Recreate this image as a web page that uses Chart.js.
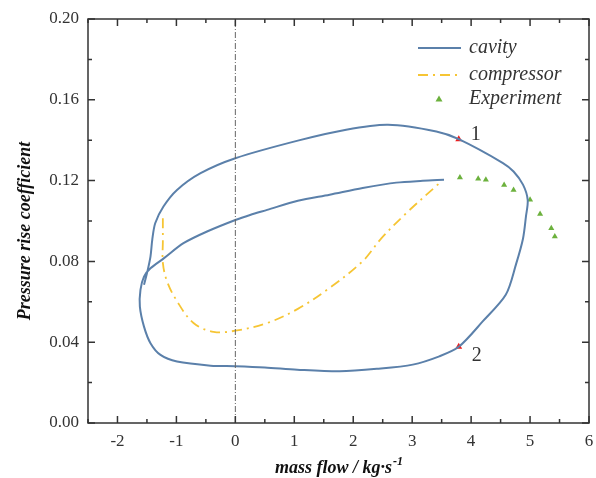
<!DOCTYPE html>
<html>
<head>
<meta charset="utf-8">
<script src="https://cdn.jsdelivr.net/npm/chart.js@4.4.0/dist/chart.umd.min.js"></script>
<style>
  html, body { margin: 0; padding: 0; background: #fff; }
  #wrap { width: 596px; height: 478px; }
</style>
</head>
<body>
<div id="wrap"><canvas id="surgeChart" width="596" height="478"></canvas></div>
<script>
// cavity loop, traced in drawing order
const cavityX = [3.54, 3.18, 2.73, 2.16, 1.60, 1.06, 0.54, 0.25, 0.00, -0.48, -0.88, -1.21, -1.44, -1.55,
  -1.61, -1.62, -1.55, -1.44, -1.27, -0.99, -0.42, 0.00, 0.50, 1.05, 1.77, 2.40, 3.01, 3.46,
  3.79, 4.20, 4.59, 4.76, 4.88, 4.93, 4.96, 4.88, 4.72, 4.54, 3.79, 3.41, 2.59, 1.88, 1.06, 0.00, -0.59,
  -0.99, -1.22, -1.36, -1.41, -1.44, -1.50, -1.55];
const cavityY = [0.1204, 0.1199, 0.1190, 0.1163, 0.1130, 0.1100, 0.1055, 0.1030, 0.1005, 0.0948, 0.0890, 0.0816, 0.0766, 0.0725,
  0.0659, 0.0576, 0.0477, 0.0395, 0.0337, 0.0304, 0.0284, 0.0281, 0.0275, 0.0264, 0.0256, 0.0268, 0.0289, 0.0330,
  0.0377, 0.0504, 0.0636, 0.0784, 0.0912, 0.1022, 0.1105, 0.1180, 0.1245, 0.1287, 0.1405, 0.1443, 0.1476, 0.1452, 0.1398, 0.1311, 0.1237,
  0.1154, 0.1072, 0.0989, 0.0907, 0.0824, 0.0741, 0.0684];

const compressorX = [-1.23, -1.23, -1.23, -1.16, -0.99, -0.71, -0.37, 0.00, 0.54, 1.06, 1.60, 2.16, 2.48, 2.90, 3.46];
const compressorY = [0.1014, 0.0900, 0.0793, 0.0702, 0.0603, 0.0495, 0.0451, 0.0457, 0.0495, 0.0565, 0.0669, 0.0801, 0.0915, 0.1039, 0.1187];

const experimentX = [3.81, 4.12, 4.25, 4.56, 4.72, 5.00, 5.17, 5.36, 5.42];
const experimentY = [0.1215, 0.1209, 0.1204, 0.1178, 0.1154, 0.1105, 0.1035, 0.0964, 0.0923];

const markX = [3.79, 3.79];
const markY = [0.1405, 0.0377];
const markLabels = ['1', '2'];

const xTicks = [-2, -1, 0, 1, 2, 3, 4, 5, 6];
const yTicks = [0.00, 0.04, 0.08, 0.12, 0.16, 0.20];

const zip = (xs, ys) => xs.map((x, i) => ({ x: x, y: ys[i] }));

const SERIF = '"Liberation Serif", "Times New Roman", serif';
const INK = '#333';

// frame with inward ticks on all four sides, plus labels and legend
const framePlugin = {
  id: 'frame',
  afterDatasetsDraw(chart) {
    const { ctx, chartArea: a, scales } = chart;
    const xs = scales.x, ys = scales.y;
    ctx.save();
    ctx.strokeStyle = INK;
    ctx.lineWidth = 1.5;
    ctx.strokeRect(a.left, a.top, a.right - a.left, a.bottom - a.top);
    ctx.beginPath();
    for (let v = -2.5; v <= 6.001; v += 0.5) {
      const px = xs.getPixelForValue(v);
      const len = Math.abs(v - Math.round(v)) < 1e-6 ? 7 : 4;
      ctx.moveTo(px, a.bottom); ctx.lineTo(px, a.bottom - len);
      ctx.moveTo(px, a.top); ctx.lineTo(px, a.top + len);
    }
    for (let i = 0; i <= 10; i++) {
      const py = ys.getPixelForValue(i * 0.02);
      const len = i % 2 === 0 ? 7 : 4;
      ctx.moveTo(a.left, py); ctx.lineTo(a.left + len, py);
      ctx.moveTo(a.right, py); ctx.lineTo(a.right - len, py);
    }
    ctx.stroke();

    // point labels 1 and 2
    ctx.fillStyle = INK;
    ctx.font = '20px ' + SERIF;
    ctx.textAlign = 'left';
    ctx.textBaseline = 'middle';
    const offs = [[12, -4], [13, 9]];
    markLabels.forEach((t, i) => {
      ctx.fillText(t, xs.getPixelForValue(markX[i]) + offs[i][0], ys.getPixelForValue(markY[i]) + offs[i][1]);
    });

    // x axis title with superscript
    const main = 'mass flow / kg·s', sup = '-1';
    ctx.fillStyle = '#111';
    ctx.textBaseline = 'alphabetic';
    ctx.font = 'italic bold 18px ' + SERIF;
    const w1 = ctx.measureText(main).width;
    ctx.font = 'italic bold 12px ' + SERIF;
    const w2 = ctx.measureText(sup).width;
    const x0 = (a.left + a.right) / 2 - (w1 + w2) / 2;
    ctx.font = 'italic bold 18px ' + SERIF;
    ctx.fillText(main, x0, 473);
    ctx.font = 'italic bold 12px ' + SERIF;
    ctx.fillText(sup, x0 + w1 + 1, 465);

    // y axis title
    ctx.save();
    ctx.translate(25, 231);
    ctx.rotate(-Math.PI / 2);
    ctx.textAlign = 'center';
    ctx.textBaseline = 'middle';
    ctx.font = 'italic bold 18px ' + SERIF;
    ctx.fillText('Pressure rise coefficient', 0, 0);
    ctx.restore();

    // legend
    ctx.textBaseline = 'middle';
    const items = chart.data.datasets.filter(d => d.inLegend);
    const lx = 418, tx = 469, rows = [48, 75, 99];
    items.forEach((d, i) => {
      const y = rows[i];
      if (d.showLine) {
        ctx.beginPath();
        ctx.strokeStyle = d.borderColor;
        ctx.lineWidth = d.borderWidth;
        ctx.setLineDash(d.borderDash || []);
        ctx.moveTo(lx, y); ctx.lineTo(lx + 43, y);
        ctx.stroke();
        ctx.setLineDash([]);
      } else {
        const cx = 439, r = 3.5;
        ctx.beginPath();
        ctx.fillStyle = d.backgroundColor;
        ctx.moveTo(cx, y - r); ctx.lineTo(cx + r, y + r * 0.7); ctx.lineTo(cx - r, y + r * 0.7);
        ctx.closePath();
        ctx.fill();
      }
      ctx.fillStyle = INK;
      ctx.font = 'italic 20px ' + SERIF;
      ctx.fillText(d.label, tx, y);
    });
    ctx.restore();
  }
};

new Chart(document.getElementById('surgeChart').getContext('2d'), {
  type: 'scatter',
  data: {
    datasets: [
      {
        label: 'zero',
        data: [{ x: 0, y: 0 }, { x: 0, y: 0.2 }],
        showLine: true,
        borderColor: '#666',
        borderWidth: 1,
        borderDash: [6, 2, 1, 2],
        pointRadius: 0
      },
      {
        label: 'cavity',
        inLegend: true,
        data: zip(cavityX, cavityY),
        showLine: true,
        tension: 0.3,
        borderColor: '#5b80aa',
        borderWidth: 2,
        pointRadius: 0
      },
      {
        label: 'compressor',
        inLegend: true,
        data: zip(compressorX, compressorY),
        showLine: true,
        tension: 0.35,
        borderColor: '#f6c534',
        borderWidth: 1.8,
        borderDash: [10, 5, 2, 5],
        pointRadius: 0
      },
      {
        label: 'Experiment',
        inLegend: true,
        data: zip(experimentX, experimentY),
        showLine: false,
        pointStyle: 'triangle',
        pointRadius: 3.5,
        backgroundColor: '#6cb13d',
        borderColor: '#6cb13d',
        borderWidth: 0
      },
      {
        label: 'marks',
        data: zip(markX, markY),
        showLine: false,
        pointStyle: 'triangle',
        pointRadius: 4,
        backgroundColor: '#ee1c1c',
        borderColor: '#ee1c1c',
        borderWidth: 0
      }
    ]
  },
  options: {
    responsive: false,
    animation: false,
    layout: { padding: { top: 19, right: 7, left: 0, bottom: 0 } },
    plugins: { legend: { display: false }, tooltip: { enabled: false } },
    scales: {
      x: {
        type: 'linear',
        min: -2.5,
        max: 6,
        afterBuildTicks: s => { s.ticks = xTicks.map(v => ({ value: v })); },
        afterFit: s => { s.height = 55; },
        grid: { display: false },
        border: { display: false },
        ticks: { color: INK, font: { family: SERIF, size: 17 }, padding: 0, maxRotation: 0 },
        title: { display: false }
      },
      y: {
        type: 'linear',
        min: 0,
        max: 0.2,
        afterBuildTicks: s => { s.ticks = yTicks.map(v => ({ value: v })); },
        afterFit: s => { s.width = 88; },
        grid: { display: false },
        border: { display: false },
        ticks: {
          color: INK,
          font: { family: SERIF, size: 17 },
          padding: 1,
          callback: v => v.toFixed(2)
        },
        title: { display: false }
      }
    }
  },
  plugins: [framePlugin]
});
</script>
</body>
</html>
